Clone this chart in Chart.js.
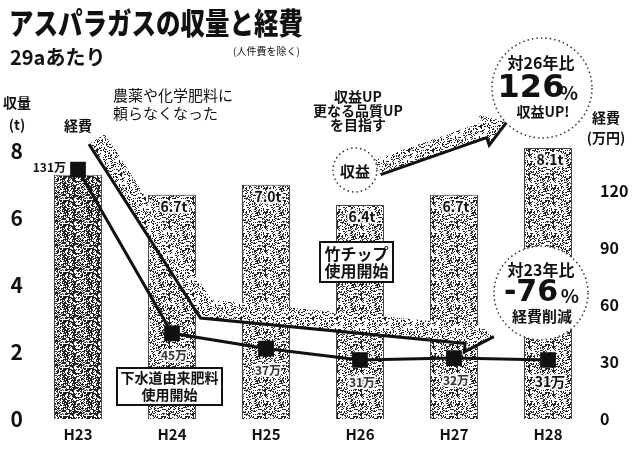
<!DOCTYPE html>
<html lang="ja">
<head>
<meta charset="utf-8">
<title>アスパラガスの収量と経費</title>
<script src="https://cdn.jsdelivr.net/npm/chart.js"></script>
<style>
  html, body { margin: 0; padding: 0; background: #fff; }
  canvas { display: block; }
</style>
</head>
<body>
<canvas id="chart" width="633" height="450"></canvas>
<script>
// data
const years = ['H23', 'H24', 'H25', 'H26', 'H27', 'H28'];
const yieldT = [7.3, 6.7, 7.0, 6.4, 6.7, 8.1];          // 収量 (t)
const yieldLabels = ['', '6.7t', '7.0t', '6.4t', '6.7t', '8.1t'];
const costMan = [131, 45, 37, 31, 32, 31];               // 経費 (万円)
const costLabels = ['131万', '45万', '37万', '31万', '32万', '31万'];
const yieldTicks = [0, 2, 4, 6, 8];
const costTicks = [0, 30, 60, 90, 120];

const JP = '"Noto Sans CJK JP", "Noto Sans", sans-serif';
const INK = '#111';

// newsprint-like stipple, deterministic hash so it is the same every run
function stipple(density) {
  const c = document.createElement('canvas');
  c.width = c.height = 24;
  const g = c.getContext('2d');
  g.fillStyle = '#fff';
  g.fillRect(0, 0, 24, 24);
  g.fillStyle = '#222';
  for (let i = 0; i < 24; i++) {
    for (let j = 0; j < 24; j++) {
      const h = Math.abs(Math.sin(i * 12.9898 + j * 78.233) * 43758.5453) % 1;
      if (h < density) g.fillRect(i, j, 1, 1);
    }
  }
  return g.createPattern(c, 'repeat');
}
const barDark = stipple(0.5);
const barLight = stipple(0.3);
const arrowFill = stipple(0.22);

function txt(ctx, s, x, y, font, align = 'center', color = INK, halo = false) {
  ctx.font = font;
  ctx.textAlign = align;
  ctx.textBaseline = 'middle';
  if (halo) {
    ctx.save();
    ctx.strokeStyle = 'rgba(255,255,255,0.9)';
    ctx.lineWidth = 4;
    ctx.lineJoin = 'round';
    ctx.strokeText(s, x, y);
    ctx.restore();
  }
  ctx.fillStyle = color;
  ctx.fillText(s, x, y);
}

// wide stippled arrow with a dark lower edge
function fatArrow(ctx, pts, w, headLen, headW) {
  const n = pts.length;
  const seg = (a, b) => {
    const dx = b[0] - a[0], dy = b[1] - a[1], l = Math.hypot(dx, dy);
    return [dx / l, dy / l];
  };
  const d = seg(pts[n - 2], pts[n - 1]);
  const last = pts[n - 1];
  const nl = [-d[1], d[0]];
  const tip = [last[0] + d[0] * headLen, last[1] + d[1] * headLen];
  const b1 = [last[0] + nl[0] * headW / 2, last[1] + nl[1] * headW / 2];
  const b2 = [last[0] - nl[0] * headW / 2, last[1] - nl[1] * headW / 2];

  ctx.save();
  ctx.strokeStyle = arrowFill;
  ctx.lineWidth = w;
  ctx.lineJoin = 'miter';
  ctx.lineCap = 'butt';
  ctx.beginPath();
  pts.forEach((p, i) => i ? ctx.lineTo(p[0], p[1]) : ctx.moveTo(p[0], p[1]));
  ctx.stroke();
  ctx.fillStyle = arrowFill;
  ctx.beginPath();
  ctx.moveTo(b1[0], b1[1]);
  ctx.lineTo(tip[0], tip[1]);
  ctx.lineTo(b2[0], b2[1]);
  ctx.closePath();
  ctx.fill();

  // lower edge
  const off = [];
  for (let i = 0; i < n; i++) {
    const s1 = seg(pts[Math.max(0, i - 1)], pts[Math.max(1, i)]);
    const s2 = seg(pts[Math.min(n - 2, i)], pts[Math.min(n - 1, i + 1)]);
    let nx = (-s1[1] - s2[1]) / 2, ny = (s1[0] + s2[0]) / 2;
    const dot = nx * -s2[1] + ny * s2[0];
    nx /= dot; ny /= dot;
    off.push([pts[i][0] + nx * w / 2, pts[i][1] + ny * w / 2]);
  }
  ctx.strokeStyle = INK;
  ctx.lineWidth = 3;
  ctx.beginPath();
  off.forEach((p, i) => i ? ctx.lineTo(p[0], p[1]) : ctx.moveTo(p[0], p[1]));
  ctx.lineTo(b1[0], b1[1]);
  ctx.lineTo(tip[0], tip[1]);
  ctx.stroke();
  ctx.restore();
}

function bubble(ctx, x, y, r) {
  ctx.save();
  ctx.beginPath();
  ctx.arc(x, y, r, 0, Math.PI * 2);
  ctx.fillStyle = '#fff';
  ctx.fill();
  ctx.setLineDash([1.5, 3]);
  ctx.lineWidth = 1.5;
  ctx.strokeStyle = '#333';
  ctx.stroke();
  ctx.restore();
}

function box(ctx, x, y, w, h, lines, font, gap) {
  ctx.save();
  ctx.fillStyle = '#fff';
  ctx.fillRect(x, y, w, h);
  ctx.lineWidth = 2;
  ctx.strokeStyle = INK;
  ctx.strokeRect(x, y, w, h);
  ctx.restore();
  lines.forEach((s, i) => txt(ctx, s, x + w / 2, y + h / 2 + (i - (lines.length - 1) / 2) * gap, font));
}

const deco = {
  id: 'deco',
  afterDatasetDraw(chart, args) {
    if (args.meta.type !== 'bar') return;
    const ctx = chart.ctx;
    // 経費 arrow: down from H23 then along the bottom
    fatArrow(ctx, [[97, 139], [206, 309], [466, 334]], 19, 28, 36);
    // 収益 arrow up to the 126% bubble
    fatArrow(ctx, [[378, 167], [484, 130]], 16, 24, 32);
  },
  afterDatasetsDraw(chart) {
    const ctx = chart.ctx;
    const bars = chart.getDatasetMeta(0).data;
    const pts = chart.getDatasetMeta(1).data;

    // title block
    ctx.save();
    ctx.translate(9, 23);
    ctx.scale(1, 1.2);
    txt(ctx, 'アスパラガスの収量と経費', 0, 0, `900 24.5px ${JP}`, 'left');
    ctx.restore();
    txt(ctx, '29aあたり', 10, 57, `bold 20px ${JP}`, 'left');
    txt(ctx, '(人件費を除く)', 233, 51, `10px ${JP}`, 'left');

    // axis titles
    txt(ctx, '収量', 17, 103, `bold 14px ${JP}`);
    txt(ctx, '(t)', 17, 125, `bold 14px ${JP}`);
    txt(ctx, '経費', 606, 118, `bold 14px ${JP}`);
    txt(ctx, '(万円)', 606, 138, `bold 14px ${JP}`);
    txt(ctx, '経費', 78, 126, `bold 14px ${JP}`);

    // notes
    txt(ctx, '農薬や化学肥料に', 113, 95, `15px ${JP}`, 'left');
    txt(ctx, '頼らなくなった', 113, 113, `15px ${JP}`, 'left');
    txt(ctx, '収益UP', 358, 97, `bold 14px ${JP}`);
    txt(ctx, '更なる品質UP', 358, 111, `bold 14px ${JP}`);
    txt(ctx, 'を目指す', 358, 125, `bold 14px ${JP}`);

    bubble(ctx, 355, 170, 22);
    txt(ctx, '収益', 355, 171, `bold 15px ${JP}`);

    bubble(ctx, 542, 88, 50);
    txt(ctx, '対26年比', 541, 63, `bold 16px ${JP}`);
    txt(ctx, '126', 531, 89, `bold 32px "DejaVu Sans", sans-serif`);
    txt(ctx, '%', 569, 93, `bold 19px ${JP}`);
    txt(ctx, '収益UP!', 543, 112, `bold 14px ${JP}`);

    bubble(ctx, 541, 293, 47);
    txt(ctx, '対23年比', 541, 270, `bold 16px ${JP}`);
    txt(ctx, '-76', 531, 293, `bold 30px "DejaVu Sans", sans-serif`);
    txt(ctx, '%', 570, 296, `bold 19px ${JP}`);
    txt(ctx, '経費削減', 542, 316, `bold 15px ${JP}`);

    box(ctx, 320, 242, 73, 40, ['竹チップ', '使用開始'], `bold 16px ${JP}`, 17);
    box(ctx, 117, 368, 105, 37, ['下水道由来肥料', '使用開始'], `bold 14px ${JP}`, 17);

    // value labels
    bars.forEach((b, i) => {
      if (yieldLabels[i]) txt(ctx, yieldLabels[i], b.x + 2, b.y + 12, `bold 14px ${JP}`, 'center', INK, true);
    });
    pts.forEach((p, i) => {
      if (i === 0) txt(ctx, costLabels[i], p.x - 12, p.y - 2, `bold 12px ${JP}`, 'right', INK, true);
      else txt(ctx, costLabels[i], p.x + 2, p.y + 22, `bold ${i === 5 ? 14 : 12}px ${JP}`, 'center', i === 5 ? INK : '#333', true);
    });
  }
};

const noGrid = { display: false, drawTicks: false };

new Chart(document.getElementById('chart'), {
  data: {
    labels: years,
    datasets: [
      {
        type: 'bar',
        label: '収量',
        data: yieldT,
        yAxisID: 'yL',
        order: 1,
        backgroundColor: yieldT.map((v, i) => i === 0 ? barDark : barLight),
        borderColor: '#444',
        borderWidth: 1,
        borderSkipped: 'bottom',
        barPercentage: 0.51,
        categoryPercentage: 1
      },
      {
        type: 'line',
        label: '経費',
        data: costMan,
        yAxisID: 'yR',
        order: 0,
        borderColor: INK,
        borderWidth: 3,
        tension: 0,
        pointStyle: 'rect',
        pointRadius: 9,
        pointBackgroundColor: INK,
        pointBorderColor: INK
      }
    ]
  },
  options: {
    responsive: false,
    animation: false,
    layout: { padding: { top: 143, left: 0, right: 0, bottom: 0 } },
    plugins: { legend: { display: false }, tooltip: { enabled: false } },
    scales: {
      x: {
        grid: noGrid,
        border: { display: false },
        ticks: { color: INK, font: { family: JP, size: 15, weight: 'bold' }, padding: 6 },
        afterFit: s => { s.height = 31; }
      },
      yL: {
        position: 'left',
        min: 0,
        max: 8.25,
        grid: noGrid,
        border: { display: false },
        afterBuildTicks: s => { s.ticks = yieldTicks.map(v => ({ value: v })); },
        ticks: { color: INK, font: { family: JP, size: 21, weight: 'bold' }, padding: 8 },
        afterFit: s => { s.width = 31; }
      },
      yR: {
        position: 'right',
        min: 0,
        max: 145,
        grid: noGrid,
        border: { display: false },
        afterBuildTicks: s => { s.ticks = costTicks.map(v => ({ value: v })); },
        ticks: { color: INK, font: { family: JP, size: 16, weight: '600' }, padding: 5 },
        afterFit: s => { s.width = 38; }
      }
    }
  },
  plugins: [deco]
});
</script>
</body>
</html>
